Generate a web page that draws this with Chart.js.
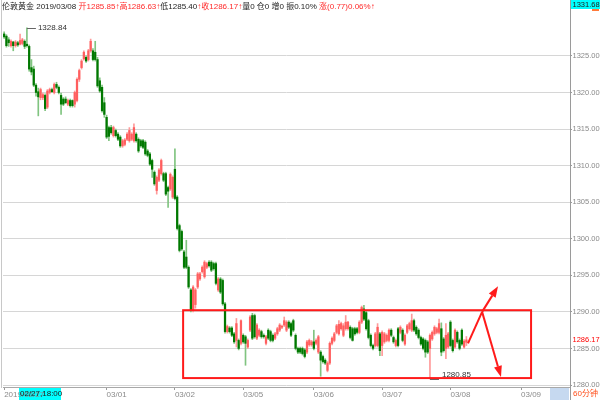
<!DOCTYPE html>
<html>
<head>
<meta charset="utf-8">
<script src="https://cdn.jsdelivr.net/npm/chart.js@4.4.1/dist/chart.umd.min.js"></script>
<style>
  html, body { margin: 0; padding: 0; background: #fff; }
</style>
</head>
<body>
<canvas id="kline" width="600" height="400"></canvas>
<script>
// 伦敦黄金 60分钟 K线
const opens = [
  1328.0, 1327.7, 1327.2, 1326.4, 1326.9, 1326.4, 1326.8, 1326.6, 1326.7, 1327.0,
  1326.6, 1326.3, 1323.4, 1323.2, 1321.0, 1320.1, 1319.3, 1319.3, 1319.6, 1318.0,
  1320.0, 1320.4, 1320.0, 1321.1, 1320.7, 1319.6, 1319.1, 1319.1, 1318.4, 1318.9,
  1318.9, 1318.4, 1318.9, 1321.8, 1323.4, 1324.6, 1324.8, 1324.5, 1325.7, 1325.7,
  1325.5, 1324.5, 1321.6, 1320.7, 1318.6, 1316.6, 1315.2, 1315.2, 1314.1, 1314.8,
  1314.3, 1313.9, 1312.7, 1312.9, 1313.6, 1313.4, 1313.6, 1313.4, 1314.3, 1313.6,
  1313.4, 1313.4, 1313.2, 1312.0, 1311.6, 1310.7, 1309.1, 1306.6, 1308.0, 1308.9,
  1308.9, 1308.9, 1307.0, 1306.8, 1305.7, 1309.5, 1305.7, 1301.8, 1301.0, 1298.2,
  1297.5, 1296.1, 1293.0, 1290.2, 1291.0, 1293.4, 1294.5, 1295.5, 1294.8, 1296.1,
  1296.8, 1296.8, 1296.6, 1296.6, 1293.0, 1294.5, 1294.3, 1291.1, 1287.3, 1287.8,
  1287.8, 1287.0, 1286.1, 1286.1, 1285.7, 1286.8, 1286.6, 1285.2, 1287.5, 1289.5,
  1289.5, 1286.4, 1286.8, 1287.3, 1286.8, 1285.7, 1287.5, 1287.3, 1286.8, 1286.4,
  1287.0, 1287.5, 1287.9, 1288.2, 1287.5, 1288.6, 1288.4, 1288.8, 1286.8, 1285.0,
  1285.0, 1285.0, 1284.8, 1284.5, 1285.5, 1285.5, 1285.9, 1285.7, 1284.5, 1284.5,
  1283.9, 1283.4, 1282.0, 1283.0, 1285.7, 1286.1, 1287.2, 1287.0, 1287.7, 1286.8,
  1287.7, 1287.7, 1287.9, 1287.7, 1287.7, 1287.7, 1287.2, 1288.6, 1290.4, 1289.9,
  1288.8, 1286.8, 1285.4, 1285.4, 1285.4, 1287.0, 1285.4, 1285.9, 1286.1, 1286.1,
  1287.5, 1286.5, 1285.4, 1287.7, 1287.2, 1287.5, 1285.6, 1287.2, 1287.7, 1287.5,
  1288.8, 1287.9, 1287.5, 1286.5, 1286.3, 1286.1, 1285.9, 1285.0, 1286.3, 1287.0,
  1287.2, 1287.2, 1287.7, 1286.3, 1285.0, 1285.2, 1288.6, 1286.1, 1285.2, 1287.2,
  1286.1, 1287.5, 1285.2, 1285.85
];
const highs = [
  1328.3, 1327.9, 1327.5, 1327.2, 1327.0, 1327.1, 1327.0, 1328.0, 1327.4, 1327.2,
  1328.84, 1326.5, 1324.5, 1323.6, 1321.2, 1320.6, 1320.6, 1319.9, 1319.8, 1320.4,
  1320.6, 1320.6, 1321.3, 1321.4, 1320.9, 1319.9, 1319.3, 1319.4, 1319.1, 1319.1,
  1319.0, 1320.2, 1322.0, 1323.2, 1324.5, 1325.7, 1325.0, 1325.9, 1327.3, 1326.0,
  1327.0, 1324.8, 1322.0, 1321.0, 1319.3, 1316.9, 1315.4, 1315.5, 1315.4, 1315.0,
  1314.5, 1314.1, 1313.6, 1313.7, 1314.5, 1315.2, 1314.5, 1315.7, 1314.5, 1313.8,
  1313.6, 1313.6, 1313.4, 1312.2, 1311.8, 1310.9, 1309.3, 1308.6, 1309.6, 1310.9,
  1309.1, 1309.1, 1307.2, 1309.0, 1308.6, 1312.3, 1305.9, 1302.0, 1301.2, 1298.4,
  1299.8, 1296.3, 1293.2, 1293.6, 1293.2, 1295.4, 1295.4, 1296.3, 1297.0, 1296.8,
  1297.0, 1297.0, 1296.8, 1296.8, 1294.7, 1294.7, 1294.5, 1291.3, 1288.2, 1288.0,
  1288.0, 1287.2, 1289.1, 1286.3, 1288.9, 1287.0, 1286.8, 1286.3, 1289.5, 1289.8,
  1289.7, 1288.4, 1287.7, 1287.5, 1287.0, 1286.8, 1287.7, 1287.5, 1287.0, 1287.2,
  1287.9, 1288.4, 1288.2, 1289.3, 1288.8, 1288.8, 1288.6, 1289.0, 1287.0, 1285.2,
  1285.2, 1285.2, 1285.0, 1286.1, 1286.3, 1286.1, 1287.5, 1286.3, 1286.8, 1284.7,
  1284.1, 1283.6, 1283.2, 1285.9, 1286.6, 1287.2, 1288.3, 1288.8, 1288.6, 1288.4,
  1289.5, 1288.7, 1288.1, 1287.9, 1287.9, 1287.9, 1288.8, 1290.8, 1290.9, 1290.1,
  1289.0, 1287.0, 1285.6, 1287.2, 1288.4, 1287.2, 1287.4, 1287.2, 1287.0, 1287.7,
  1287.7, 1286.7, 1286.3, 1287.9, 1288.1, 1287.7, 1287.0, 1288.3, 1288.6, 1289.7,
  1289.0, 1288.1, 1287.7, 1286.7, 1286.5, 1286.3, 1286.1, 1287.0, 1287.4, 1288.1,
  1287.9, 1289.0, 1288.5, 1286.5, 1288.4, 1287.2, 1288.8, 1286.3, 1287.7, 1287.4,
  1286.3, 1287.7, 1286.2, 1286.63
];
const lows = [
  1327.4, 1326.2, 1326.3, 1326.2, 1325.7, 1326.2, 1326.3, 1326.5, 1326.5, 1326.0,
  1326.2, 1322.9, 1322.4, 1320.8, 1319.5, 1316.8, 1319.0, 1319.0, 1317.5, 1317.8,
  1319.8, 1320.0, 1319.8, 1320.5, 1319.8, 1317.0, 1318.2, 1318.5, 1318.2, 1318.0,
  1318.0, 1318.0, 1318.7, 1321.5, 1323.2, 1324.4, 1324.1, 1324.3, 1325.5, 1324.3,
  1324.3, 1320.7, 1320.0, 1317.3, 1316.6, 1313.7, 1313.4, 1314.3, 1313.9, 1313.9,
  1313.4, 1312.5, 1312.5, 1312.7, 1313.4, 1313.2, 1313.4, 1313.2, 1313.2, 1311.8,
  1312.5, 1312.3, 1311.4, 1311.2, 1310.0, 1308.4, 1307.3, 1306.1, 1307.8, 1308.7,
  1307.8, 1305.9, 1304.3, 1306.6, 1305.5, 1305.3, 1301.2, 1298.2, 1298.4, 1295.9,
  1295.9, 1293.2, 1290.0, 1290.0, 1290.5, 1293.2, 1294.3, 1295.3, 1294.6, 1295.9,
  1296.1, 1295.5, 1295.7, 1293.7, 1292.8, 1292.5, 1290.9, 1287.1, 1287.1, 1287.1,
  1286.6, 1285.7, 1285.2, 1284.8, 1285.5, 1285.7, 1282.7, 1285.0, 1287.3, 1286.2,
  1286.4, 1286.2, 1286.6, 1286.4, 1286.4, 1285.5, 1286.2, 1285.9, 1285.9, 1286.2,
  1286.8, 1287.3, 1287.7, 1288.0, 1287.3, 1287.7, 1286.6, 1287.3, 1284.8, 1284.3,
  1284.3, 1284.1, 1283.7, 1284.3, 1285.3, 1285.3, 1284.8, 1285.5, 1284.3, 1281.2,
  1283.0, 1282.8, 1281.8, 1282.8, 1285.5, 1285.9, 1287.0, 1286.8, 1287.5, 1286.6,
  1287.5, 1287.5, 1286.3, 1286.0, 1286.8, 1287.0, 1287.0, 1288.4, 1288.8, 1287.5,
  1286.3, 1285.2, 1284.8, 1285.2, 1285.2, 1284.0, 1284.0, 1285.7, 1285.9, 1285.9,
  1286.6, 1285.7, 1285.2, 1285.2, 1287.0, 1285.9, 1285.4, 1287.0, 1287.5, 1287.3,
  1287.3, 1286.8, 1286.3, 1285.4, 1284.8, 1283.8, 1284.3, 1280.85, 1286.1, 1286.8,
  1287.0, 1287.0, 1284.0, 1284.5, 1283.6, 1285.0, 1285.2, 1284.5, 1285.0, 1285.7,
  1284.8, 1285.4, 1285.0, 1285.40
];
const closes = [
  1327.6, 1326.4, 1326.8, 1327.0, 1326.4, 1326.9, 1326.5, 1327.1, 1327.2, 1326.3,
  1326.4, 1323.2, 1322.8, 1321.0, 1320.0, 1319.4, 1320.4, 1319.7, 1317.8, 1320.2,
  1320.4, 1320.1, 1321.1, 1320.7, 1320.0, 1318.4, 1318.4, 1318.6, 1318.9, 1318.2,
  1318.2, 1320.0, 1321.8, 1323.0, 1324.3, 1325.5, 1324.3, 1325.7, 1327.0, 1324.5,
  1324.5, 1320.9, 1320.2, 1317.5, 1317.0, 1313.9, 1314.0, 1314.5, 1315.2, 1314.1,
  1313.6, 1312.7, 1313.4, 1313.5, 1314.3, 1314.8, 1314.3, 1315.2, 1313.4, 1312.0,
  1312.7, 1312.5, 1311.6, 1311.4, 1310.2, 1309.5, 1307.5, 1308.4, 1309.4, 1310.7,
  1308.0, 1306.1, 1306.5, 1308.8, 1308.4, 1305.5, 1301.4, 1298.4, 1298.6, 1296.1,
  1296.1, 1293.4, 1290.2, 1293.4, 1293.0, 1295.2, 1295.2, 1296.1, 1296.8, 1296.6,
  1296.3, 1295.7, 1295.9, 1293.9, 1294.5, 1292.7, 1291.1, 1287.3, 1288.0, 1287.3,
  1286.8, 1285.9, 1288.4, 1285.0, 1288.8, 1285.9, 1285.7, 1286.1, 1289.3, 1286.4,
  1286.6, 1288.2, 1287.5, 1286.6, 1286.6, 1286.6, 1286.4, 1286.1, 1286.1, 1287.0,
  1287.7, 1288.2, 1288.0, 1288.8, 1288.6, 1287.9, 1286.8, 1287.5, 1285.0, 1284.5,
  1284.5, 1284.3, 1283.9, 1285.9, 1286.1, 1285.9, 1285.0, 1286.1, 1286.6, 1283.4,
  1283.2, 1283.0, 1283.0, 1285.7, 1286.4, 1287.0, 1288.1, 1288.3, 1288.4, 1288.1,
  1288.6, 1288.6, 1286.5, 1286.1, 1287.0, 1287.2, 1288.6, 1290.6, 1289.0, 1287.7,
  1286.5, 1285.4, 1285.0, 1287.0, 1287.9, 1284.7, 1287.2, 1287.0, 1286.8, 1287.5,
  1286.8, 1285.9, 1286.1, 1285.4, 1287.9, 1286.1, 1286.8, 1288.1, 1288.4, 1288.8,
  1287.5, 1287.0, 1286.5, 1285.6, 1285.0, 1284.5, 1284.5, 1286.8, 1287.2, 1287.9,
  1287.7, 1288.4, 1284.5, 1284.7, 1286.8, 1287.0, 1285.4, 1284.7, 1287.5, 1285.9,
  1285.0, 1285.6, 1286.0, 1286.17
];

// time axis: one slot per bar, empty slots on the right
const slotCount = 249;
const tickSlots = [0, 45, 75, 105, 136, 166, 196, 227];
const tickTexts = ["2019/02/27", "03/01", "03/02", "03/05", "03/06", "03/07", "03/08", "03/09"];
const yTicks = [1280, 1285, 1290, 1295, 1300, 1305, 1310, 1315, 1320, 1325];

const lastPrice = 1286.17;
const cursorPrice = 1331.68;
const cursorTime = "02/27,18:00";
const period = "60分钟";

const RED = "#ff2a2a";
const DARK = "#222";
const header = [
  ["伦敦黄金 2019/03/08 ", DARK],
  ["开1285.85", RED], ["↑", RED],
  ["高1286.63", RED], ["↑", RED],
  ["低1285.40", DARK], ["↑", RED],
  ["收1286.17", RED], ["↑", RED],
  ["量0 仓0 增0 振0.10% ", DARK],
  ["涨(0.77)0.06%", RED], ["↑", RED],
];

// hand drawn box and arrows (slot, price)
const boxArea = { x0: 78.6, x1: 231.4, y0: 1280.95, y1: 1290.23 };
const arrowStart = [203.7, 1285.7];
const arrowApex = [209.9, 1290.0];
const arrowUp = [216.9, 1293.5];
const arrowDown = [218.2, 1281.1];

const labels = Array.from({ length: slotCount }, (_, i) => {
  const k = tickSlots.indexOf(i);
  return k < 0 ? "" : tickTexts[k];
});
const isUp = (i) => closes[i] >= opens[i];
const bodies = opens.map((o, i) => [Math.min(o, closes[i]), Math.max(o, closes[i])]);
const wicks = lows.map((l, i) => [l, highs[i]]);

const FONT = "'Liberation Sans', 'Noto Sans CJK SC', sans-serif";

function arrow(ctx, x0, y0, x1, y1) {
  const a = Math.atan2(y1 - y0, x1 - x0);
  const len = 11, half = 4;
  const bx = x1 - len * Math.cos(a), by = y1 - len * Math.sin(a);
  ctx.beginPath();
  ctx.moveTo(x0, y0);
  ctx.lineTo(bx, by);
  ctx.stroke();
  ctx.beginPath();
  ctx.moveTo(x1, y1);
  ctx.lineTo(bx + half * Math.sin(a), by - half * Math.cos(a));
  ctx.lineTo(bx - half * Math.sin(a), by + half * Math.cos(a));
  ctx.closePath();
  ctx.fill();
}

const overlay = {
  id: "overlay",
  beforeDraw(chart) {
    const ctx = chart.ctx;
    ctx.save();
    // cursor time box under the x labels
    ctx.fillStyle = "#00ffff";
    ctx.fillRect(19, 388, 42, 12);
    // period box
    ctx.fillStyle = "#c6d9f0";
    ctx.fillRect(550, 388, 19, 12);
    ctx.restore();
  },
  afterDatasetsDraw(chart) {
    const ctx = chart.ctx;
    const xs = chart.scales.x, ys = chart.scales.y;
    const px = (p) => [xs.getPixelForValue(p[0]), ys.getPixelForValue(p[1])];
    ctx.save();

    // highest / lowest markers
    ctx.font = "8px " + FONT;
    ctx.textBaseline = "middle";
    const hi = highs.indexOf(Math.max(...highs));
    const lo = lows.indexOf(Math.min(...lows));
    const [hx, hy] = px([hi, highs[hi]]);
    ctx.strokeStyle = "#666";
    ctx.lineWidth = 1;
    ctx.beginPath();
    ctx.moveTo(hx, Math.round(hy) + 0.5);
    ctx.lineTo(hx + 9, Math.round(hy) + 0.5);
    ctx.stroke();
    ctx.fillStyle = "#333";
    ctx.fillText(highs[hi].toFixed(2), hx + 11, hy);
    const [lx, ly] = px([lo, lows[lo]]);
    ctx.beginPath();
    ctx.moveTo(lx, Math.round(ly) + 0.5);
    ctx.lineTo(lx + 9, Math.round(ly) + 0.5);
    ctx.stroke();
    ctx.fillText(lows[lo].toFixed(2), lx + 12, ly - 4);

    // red box
    ctx.strokeStyle = "#ff1a1a";
    ctx.fillStyle = "#ff1a1a";
    ctx.lineWidth = 2;
    const [bx0, by1] = px([boxArea.x0, boxArea.y1]);
    const [bx1, by0] = px([boxArea.x1, boxArea.y0]);
    ctx.strokeRect(bx0, by1, bx1 - bx0, by0 - by1);

    // arrows
    const s = px(arrowStart), m = px(arrowApex), u = px(arrowUp), d = px(arrowDown);
    ctx.beginPath();
    ctx.moveTo(s[0], s[1]);
    ctx.lineTo(m[0], m[1]);
    ctx.stroke();
    arrow(ctx, m[0], m[1], u[0], u[1]);
    arrow(ctx, m[0], m[1], d[0], d[1]);
    ctx.restore();
  },
  afterDraw(chart) {
    const ctx = chart.ctx;
    const ys = chart.scales.y;
    ctx.save();
    ctx.textBaseline = "middle";

    // header line
    ctx.font = "8px " + FONT;
    let x = 2;
    for (const [t, c] of header) {
      ctx.fillStyle = c;
      ctx.fillText(t, x, 7);
      x += ctx.measureText(t).width;
    }

    // frame lines
    ctx.strokeStyle = "#c8c8c8";
    ctx.lineWidth = 1;
    ctx.beginPath();
    ctx.moveTo(1.5, 0);
    ctx.lineTo(1.5, 388);
    ctx.stroke();
    ctx.strokeStyle = "#9a9a9a";
    ctx.beginPath();
    ctx.moveTo(570.5, 0);
    ctx.lineTo(570.5, 400);
    ctx.stroke();

    ctx.font = "7.5px " + FONT;
    // cursor price at top right
    ctx.fillStyle = "#00ffff";
    ctx.fillRect(571, 0, 29, 9);
    ctx.fillStyle = "#ff7a3a";
    ctx.fillRect(592, 9, 7, 2);
    ctx.fillStyle = "#222";
    ctx.fillText(cursorPrice.toFixed(2), 572.5, 4.5);

    // last price on the axis
    ctx.fillStyle = "#ff0000";
    ctx.fillText(lastPrice.toFixed(2), 572.5, ys.getPixelForValue(lastPrice));

    // cursor time text
    ctx.font = "8px " + FONT;
    ctx.fillStyle = "#222";
    ctx.fillText(cursorTime, 20, 394);

    // period
    ctx.fillStyle = "#ff4e1a";
    ctx.fillText(period, 573, 394);
    ctx.restore();
  },
};

new Chart(document.getElementById("kline").getContext("2d"), {
  type: "bar",
  data: {
    labels,
    datasets: [
      {
        label: "body",
        data: bodies,
        order: 1,
        grouped: false,
        barThickness: 1.6,
        minBarLength: 1,
        backgroundColor: (c) => (isUp(c.dataIndex) ? "#ff5e5e" : "#007800"),
      },
      {
        label: "wick",
        data: wicks,
        order: 2,
        grouped: false,
        barThickness: 1,
        backgroundColor: (c) => (isUp(c.dataIndex) ? "#ff9a9a" : "#80c480"),
      },
    ],
  },
  options: {
    responsive: false,
    animation: false,
    devicePixelRatio: 1,
    layout: { padding: { left: 3, top: 4, right: 0, bottom: 0 } },
    plugins: { legend: { display: false }, tooltip: { enabled: false } },
    scales: {
      x: {
        afterFit: (s) => { s.height = 13; },
        border: { color: "#a8a8a8" },
        grid: {
          offset: false,
          drawOnChartArea: false,
          tickLength: 3,
          tickColor: (c) => (labels[c.index] ? "#999" : "rgba(0,0,0,0)"),
        },
        ticks: {
          autoSkip: false,
          maxRotation: 0,
          align: "start",
          padding: 0,
          color: "#8a8a8a",
          font: { size: 8, family: FONT },
          callback: (v, i) => labels[i],
        },
      },
      y: {
        position: "right",
        min: 1279.73,
        max: 1331.96,
        afterFit: (s) => { s.width = 30; },
        afterBuildTicks: (s) => { s.ticks = yTicks.map((v) => ({ value: v })); },
        border: { color: "#9a9a9a" },
        grid: { color: "#d6d6d6", tickLength: 2, tickColor: "#999" },
        ticks: {
          padding: 0.5,
          color: "#8a8a8a",
          font: { size: 7.5, family: FONT },
          callback: (v) => v.toFixed(2),
        },
      },
    },
  },
  plugins: [overlay],
});
</script>
</body>
</html>
